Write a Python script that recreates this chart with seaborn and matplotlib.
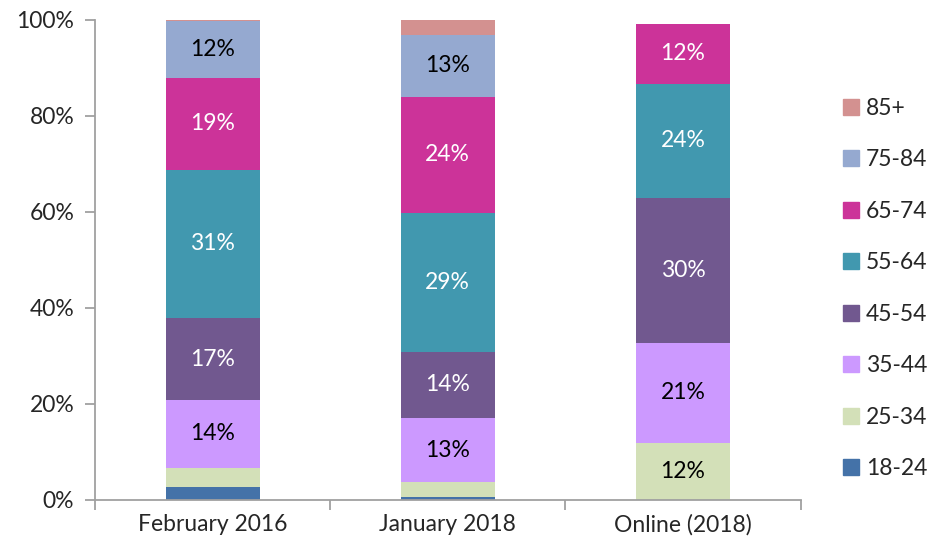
import pandas as pd
import numpy as np
import matplotlib
matplotlib.use('Agg')
import matplotlib.pyplot as plt
import seaborn as sns
from matplotlib.lines import Line2D

# Daten
surveys = ['February 2016', 'January 2018', 'Online (2018)']
ages = ['18-24', '25-34', '35-44', '45-54', '55-64', '65-74', '75-84', '85+']
feb_2016 = [2.7, 4.0, 14.1, 17.1, 30.9, 19.1, 11.9, 0.4]
jan_2018 = [0.7, 3.0, 13.4, 13.7, 29.0, 24.2, 12.9, 3.1]
online_2018 = [0.0, 11.9, 20.8, 30.2, 23.8, 12.5, 0.0, 0.0]
labels_feb = ['', '', '14%', '17%', '31%', '19%', '12%', '']
labels_jan = ['', '', '13%', '14%', '29%', '24%', '13%', '']
labels_online = ['', '12%', '21%', '30%', '24%', '12%', '', '']

colors = ['#4472A8', '#D3E0B8', '#CC99FF', '#71588F', '#4198AF', '#CC3399', '#95A9D0', '#D39190']
text_colors = ['black', 'black', 'black', 'white', 'white', 'white', 'black', 'black']

sns.set_style('white')
plt.rcParams['font.family'] = ['Lato', 'DejaVu Sans']

df = pd.DataFrame({'survey': surveys})
values = np.array([feb_2016, jan_2018, online_2018])
cum = values.cumsum(axis=1)
for i, age in enumerate(ages):
    df[age] = cum[:, i]

fig = plt.figure(figsize=(9.31, 5.5), dpi=100)
ax = fig.add_axes([0.102, 0.091, 0.758, 0.873])

# gestapelte Balken: von oben nach unten überlagern
for i in range(len(ages) - 1, -1, -1):
    sns.barplot(data=df, x='survey', y=ages[i], color=colors[i], width=0.4,
                saturation=1, linewidth=0, ax=ax)

# Beschriftungen
all_labels = [labels_feb, labels_jan, labels_online]
for j in range(len(surveys)):
    for i in range(len(ages)):
        if all_labels[j][i]:
            mid = cum[j, i] - values[j, i] / 2
            ax.text(j, mid, all_labels[j][i], ha='center', va='center',
                    fontsize=16.5, color=text_colors[i])

ax.set_ylim(0, 100)
ax.set_xlim(-0.5, 2.5)
ax.set_yticks([0, 20, 40, 60, 80, 100])
ax.set_yticklabels(['0%', '20%', '40%', '60%', '80%', '100%'])
ax.set_xlabel('')
ax.set_ylabel('')
ax.set_xticks([0, 1, 2])
ax.set_xticklabels(surveys)
ax.set_xticks([-0.5, 0.5, 1.5, 2.5], minor=True)
ax.tick_params(axis='x', which='major', length=0, labelsize=16.5, pad=10)
ax.tick_params(axis='x', which='minor', length=7, color='#A0A0A0', width=1.3, direction='out', bottom=True)
ax.tick_params(axis='y', length=7, color='#A0A0A0', width=1.3, direction='out', left=True, labelsize=16.5, pad=8)
for s in ['top', 'right']:
    ax.spines[s].set_visible(False)
for s in ['left', 'bottom']:
    ax.spines[s].set_color('#A0A0A0')
    ax.spines[s].set_linewidth(1.3)

handles = [Line2D([0], [0], marker='s', linestyle='', markersize=11,
                  markerfacecolor=colors[i], markeredgecolor=colors[i]) for i in range(len(ages))]
ax.legend(handles[::-1], ages[::-1], loc='center left', bbox_to_anchor=(1.042, 0.44),
          borderaxespad=0, frameon=False, fontsize=16.5, labelspacing=1.33,
          handletextpad=0.16, handlelength=1.0)

plt.savefig('out.png', dpi=100)
